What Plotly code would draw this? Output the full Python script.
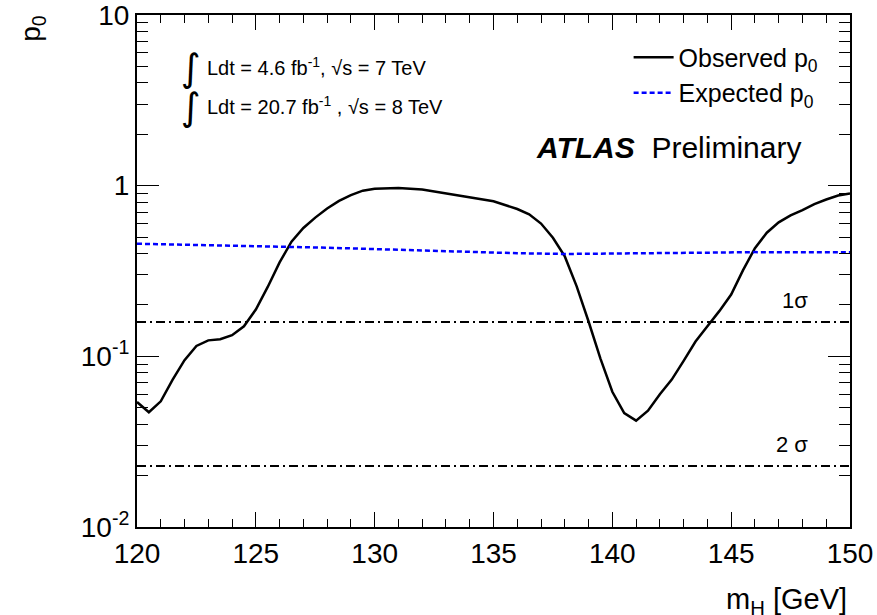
import math
import plotly.graph_objects as go

# ---- data ----
mass_obs = [120, 120.5, 121, 121.5, 122, 122.5, 123, 123.5, 124, 124.5, 125, 125.5,
            126, 126.5, 127, 127.5, 128, 128.5, 129, 129.5, 130, 131, 132, 133, 134,
            135, 136, 136.5, 137, 137.5, 138, 138.5, 139, 139.5, 140, 140.5, 141,
            141.5, 142, 142.5, 143, 143.5, 144, 144.5, 145, 145.5, 146, 146.5, 147,
            147.5, 148, 148.5, 149, 149.5, 150]
p0_obs = [0.054, 0.047, 0.0545, 0.073, 0.095, 0.115, 0.124, 0.126, 0.133, 0.150,
          0.188, 0.255, 0.355, 0.47, 0.565, 0.65, 0.735, 0.815, 0.88, 0.935, 0.96,
          0.97, 0.95, 0.90, 0.86, 0.81, 0.73, 0.68, 0.60, 0.495, 0.385, 0.257, 0.16,
          0.097, 0.062, 0.0465, 0.042, 0.048, 0.06, 0.073, 0.094, 0.122, 0.15,
          0.184, 0.23, 0.32, 0.43, 0.53, 0.61, 0.67, 0.72, 0.78, 0.83, 0.875, 0.90]

mass_exp = [120, 122, 124, 126, 128, 130, 132, 134, 136, 138, 140, 142, 144, 146, 148, 150]
p0_exp = [0.457, 0.452, 0.446, 0.441, 0.433, 0.425, 0.416, 0.408, 0.402, 0.398,
          0.399, 0.403, 0.405, 0.408, 0.408, 0.407]

sigma_levels = [0.1587, 0.02275]
sigma_labels = ["1σ", "2 σ"]

y_tickvals = [0.01, 0.1, 1, 10]
y_ticktext = ["10<sup>-2</sup>", "10<sup>-1</sup>", "1", "10"]

FONT = "Liberation Sans, Arial, Helvetica, sans-serif"

fig = go.Figure()
fig.add_trace(go.Scatter(x=mass_obs, y=p0_obs, mode="lines",
                         line=dict(color="black", width=2.5),
                         name="Observed p<sub>0</sub>"))
fig.add_trace(go.Scatter(x=mass_exp, y=p0_exp, mode="lines",
                         line=dict(color="#0000ff", width=2.5, dash="5px,3px"),
                         name="Expected p<sub>0</sub>"))

for lvl, lab in zip(sigma_levels, sigma_labels):
    fig.add_shape(type="line", xref="paper", x0=0, x1=1, yref="y", y0=lvl, y1=lvl,
                  line=dict(color="black", width=2, dash="9px,4px,2px,4px"))
    fig.add_annotation(xref="paper", x=0.944, yref="y", y=math.log10(lvl), text=lab,
                       showarrow=False, xanchor="right", yanchor="bottom", yshift=7,
                       font=dict(family=FONT, size=22, color="black"))

minor_y = [m * 10 ** e for e in (-2, -1, 0) for m in range(2, 10)]

fig.update_xaxes(range=[120, 150], showline=True, linecolor="black", linewidth=2,
                 mirror="ticks", ticks="inside", ticklen=15, tickwidth=1.2,
                 tickcolor="black", dtick=5, tick0=120, showgrid=False, zeroline=False,
                 ticklabeloverflow="allow", automargin=False,
                 tickfont=dict(family=FONT, size=28, color="black"),
                 minor=dict(ticks="inside", ticklen=8, dtick=1, tickcolor="black",
                            tickwidth=1.2, showgrid=False))
fig.update_yaxes(type="log", range=[-2.0003, 1.0003], showline=True, linecolor="black",
                 linewidth=2, mirror="ticks", ticks="inside", ticklen=22, tickwidth=1.2,
                 tickcolor="black", tickmode="array", tickvals=y_tickvals,
                 ticktext=y_ticktext, showgrid=False, zeroline=False,
                 ticklabeloverflow="allow", automargin=False,
                 tickfont=dict(family=FONT, size=28, color="black"),
                 minor=dict(ticks="inside", ticklen=11, tickmode="array",
                            tickvals=minor_y, tickcolor="black", tickwidth=1.2,
                            showgrid=False))

# axis titles
fig.add_annotation(xref="paper", yref="paper", x=0.999, y=-0.106, xanchor="right",
                   yanchor="top", showarrow=False,
                   text="m<sub>H</sub> [GeV]",
                   font=dict(family=FONT, size=29, color="black"))
fig.add_annotation(xref="paper", yref="paper", x=-0.146, y=1.005, xanchor="center",
                   yanchor="top", showarrow=False, textangle=-90,
                   text="p<sub>0</sub>",
                   font=dict(family=FONT, size=28, color="black"))

# luminosity labels
lumi = ["Ldt = 4.6 fb<sup>-1</sup>, √s = 7 TeV",
        "Ldt = 20.7 fb<sup>-1</sup> , √s = 8 TeV"]
for i, t in enumerate(lumi):
    yy = 0.9 - i * 0.076
    fig.add_annotation(xref="paper", yref="paper", x=0.059, y=yy - 0.004, xanchor="left",
                       yanchor="middle", showarrow=False, text="∫",
                       font=dict(family="DejaVu Sans", size=38, color="black"))
    fig.add_annotation(xref="paper", yref="paper", x=0.095, y=yy, xanchor="left",
                       yanchor="middle", showarrow=False, text=t,
                       font=dict(family=FONT, size=20, color="black"))

fig.add_annotation(xref="paper", yref="paper", x=0.934, y=0.742, xanchor="right",
                   yanchor="middle", showarrow=False,
                   text="<b><i>ATLAS</i></b>  Preliminary",
                   font=dict(family=FONT, size=30, color="black"))

fig.update_layout(width=877, height=615,
                  margin=dict(l=137, r=27, t=15, b=88, autoexpand=False),
                  paper_bgcolor="white", plot_bgcolor="white",
                  showlegend=True,
                  legend=dict(x=0.963, y=0.962, xanchor="right", yanchor="top",
                              bgcolor="rgba(0,0,0,0)", borderwidth=0,
                              font=dict(family=FONT, size=25, color="black"),
                              itemwidth=40, tracegroupgap=0))

fig.write_html("out.html")
